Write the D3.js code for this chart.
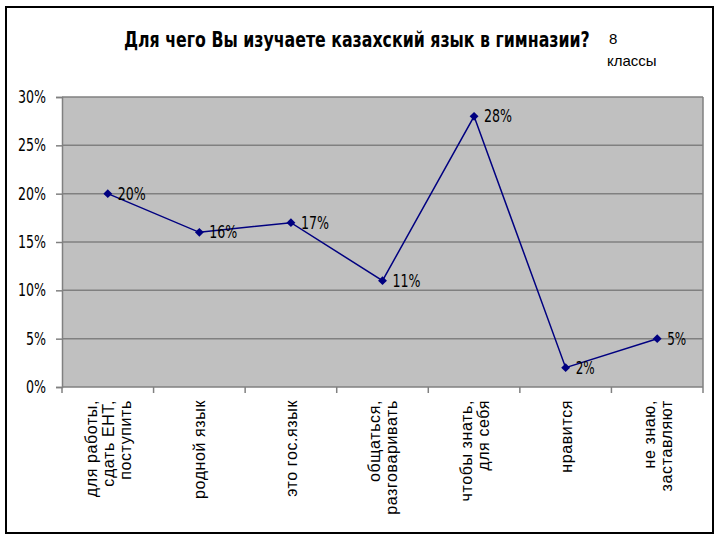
<!DOCTYPE html>
<html><head><meta charset="utf-8">
<script src="https://cdn.jsdelivr.net/npm/d3@7"></script>
<style>body{margin:0;background:#fff}</style>
</head><body>
<script>
const categories = [
  ["для работы,", "сдать ЕНТ,", "поступить"],
  ["родной язык"],
  ["это гос.язык"],
  ["общаться,", "разговаривать"],
  ["чтобы знать,", "для себя"],
  ["нравится"],
  ["не знаю,", "заставляют"]
];
const values = [20, 16, 17, 11, 28, 2, 5];
const yTicks = [0, 5, 10, 15, 20, 25, 30];
const title = "Для чего Вы изучаете казахский язык в гимназии?";
const note = ["8", "классы"];

const W = 720, H = 540;
const narrow = "'DejaVu Sans Condensed','DejaVu Sans',sans-serif";
const svg = d3.select("body").append("svg").attr("width", W).attr("height", H);

svg.append("rect").attr("x", 6).attr("y", 7).attr("width", 707).attr("height", 526)
  .attr("fill", "#fff").attr("stroke", "#000").attr("stroke-width", 2);

const L = 62, R = 703, T = 97, B = 387;
const x = d3.scaleBand().domain(d3.range(categories.length)).range([L, R]);
const y = d3.scaleLinear().domain([0, 30]).range([B, T]);

svg.append("rect").attr("x", L).attr("y", T).attr("width", R - L).attr("height", B - T)
  .attr("fill", "#c0c0c0");

svg.append("g").selectAll("line").data(yTicks.filter(d => d > 0)).join("line")
  .attr("x1", L).attr("x2", R).attr("y1", d => y(d)).attr("y2", d => y(d))
  .attr("stroke", "#808080").attr("stroke-width", 1.5);

svg.append("line").attr("x1", R).attr("x2", R).attr("y1", T).attr("y2", B)
  .attr("stroke", "#808080").attr("stroke-width", 1.5);

const yAxis = d3.axisLeft(y).tickValues(yTicks).tickSize(6).tickPadding(10)
  .tickFormat(d => d + "%");
const gy = svg.append("g").attr("transform", `translate(${L},0)`).call(yAxis);
gy.select(".domain").attr("stroke", "#808080").attr("stroke-width", 1.5);
gy.selectAll(".tick line").attr("stroke", "#808080").attr("stroke-width", 1.5);
gy.selectAll(".tick text").attr("font-family", narrow).style("font-stretch", "condensed")
  .attr("font-size", 17).attr("fill", "#000").attr("textLength", 28).attr("lengthAdjust", "spacingAndGlyphs");
gy.selectAll(".tick text").filter(d => d < 10).attr("textLength", 20);

const gx = svg.append("g").attr("transform", `translate(0,${B})`);
gx.append("line").attr("x1", L).attr("x2", R).attr("stroke", "#808080").attr("stroke-width", 1.5);
const bounds = d3.range(categories.length + 1).map(i => i < categories.length ? x(i) : R);
gx.selectAll(".tk").data(bounds).join("line").attr("class", "tk")
  .attr("x1", d => d).attr("x2", d => d).attr("y1", 0).attr("y2", 6)
  .attr("stroke", "#808080").attr("stroke-width", 1.5);

const lh = 17;
categories.forEach((lines, i) => {
  const cx = x(i) + x.bandwidth() / 2;
  const n = lines.length;
  lines.forEach((t, j) => {
    const bx = cx + (j - (n - 1) / 2) * lh + 6;
    svg.append("text").attr("transform", `translate(${bx},400) rotate(-90)`)
      .attr("text-anchor", "end").attr("font-family", "'Liberation Sans',Arial,sans-serif")
      .attr("font-size", 16).attr("letter-spacing", 0.6).attr("fill", "#000").text(t);
  });
});

const line = d3.line().x((d, i) => x(i) + x.bandwidth() / 2).y(d => y(d));
svg.append("path").datum(values).attr("d", line).attr("fill", "none")
  .attr("stroke", "#000080").attr("stroke-width", 1.5);

svg.append("g").selectAll("path").data(values).join("path")
  .attr("transform", (d, i) => `translate(${x(i) + x.bandwidth() / 2},${y(d)})`)
  .attr("d", d3.symbol().type(d3.symbolDiamond2 || d3.symbolDiamond).size(50))
  .attr("fill", "#000080");

svg.append("g").selectAll("text").data(values).join("text")
  .attr("x", (d, i) => x(i) + x.bandwidth() / 2 + 10)
  .attr("y", d => y(d) + 6)
  .attr("font-family", narrow).style("font-stretch", "condensed")
  .attr("font-size", 17).attr("fill", "#000")
  .attr("textLength", d => d >= 10 ? 28 : 19).attr("lengthAdjust", "spacingAndGlyphs")
  .text(d => d + "%");

const tg = svg.append("g");
const tt = tg.append("text").attr("x", 0).attr("y", 0)
  .attr("font-family", narrow).style("font-stretch", "condensed").attr("font-weight", "bold").attr("font-size", 21)
  .attr("fill", "#000").text(title);
const tw = tt.node().getComputedTextLength();
tg.attr("transform", `translate(124,47) scale(${466 / tw},1)`);

svg.append("text").attr("x", 609).attr("y", 44).attr("font-family", "'Liberation Sans',Arial,sans-serif")
  .attr("font-size", 15).text(note[0]);
svg.append("text").attr("x", 607).attr("y", 66).attr("font-family", "'Liberation Sans',Arial,sans-serif")
  .attr("font-size", 15).text(note[1]);
</script>
</body></html>
